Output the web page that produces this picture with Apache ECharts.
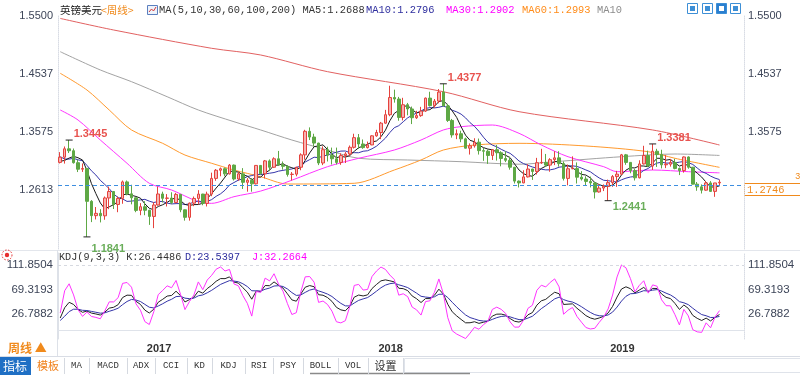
<!DOCTYPE html>
<html>
<head>
<meta charset="utf-8">
<script src="https://cdn.jsdelivr.net/npm/echarts@6/dist/echarts.min.js"></script>
<style>
  html, body { margin: 0; padding: 0; background: #fff; }
  #chart { width: 800px; height: 375px; }
</style>
</head>
<body>
<div id="chart"></div>
<script>
// weekly bars [open, high, low, close], first week 2016-08-22
var bars2016 = [
  [1.3075, 1.3245, 1.3058, 1.3161], [1.3161, 1.3339, 1.3055, 1.3300], [1.3300, 1.3445, 1.3230, 1.3268],
  [1.3268, 1.3305, 1.3055, 1.3070], [1.3070, 1.3120, 1.2915, 1.2962], [1.2962, 1.3058, 1.2917, 1.2974],
  [1.2976, 1.2976, 1.1841, 1.2430], [1.2430, 1.2450, 1.2086, 1.2193], [1.2193, 1.2336, 1.2130, 1.2231],
  [1.2231, 1.2300, 1.2081, 1.2190], [1.2190, 1.2510, 1.2125, 1.2486], [1.2486, 1.2674, 1.2300, 1.2593],
  [1.2593, 1.2600, 1.2303, 1.2378], [1.2378, 1.2510, 1.2250, 1.2478], [1.2478, 1.2775, 1.2390, 1.2752],
  [1.2752, 1.2775, 1.2530, 1.2554], [1.2554, 1.2705, 1.2380, 1.2489], [1.2489, 1.2490, 1.2250, 1.2280],
  [1.2280, 1.2400, 1.2200, 1.2341]
];
var bars2017 = [
  [1.2341, 1.2432, 1.2200, 1.2282], [1.2282, 1.2290, 1.2040, 1.2180], [1.2180, 1.2417, 1.1986, 1.2370],
  [1.2370, 1.2675, 1.2360, 1.2552], [1.2552, 1.2590, 1.2410, 1.2480], [1.2480, 1.2550, 1.2345, 1.2485],
  [1.2485, 1.2580, 1.2385, 1.2410], [1.2410, 1.2570, 1.2400, 1.2545], [1.2545, 1.2545, 1.2250, 1.2290],
  [1.2290, 1.2295, 1.2110, 1.2165], [1.2165, 1.2410, 1.2110, 1.2400], [1.2400, 1.2510, 1.2350, 1.2478],
  [1.2478, 1.2615, 1.2380, 1.2550], [1.2550, 1.2555, 1.2365, 1.2395], [1.2395, 1.2590, 1.2345, 1.2550],
  [1.2550, 1.2905, 1.2515, 1.2810], [1.2810, 1.2965, 1.2770, 1.2945], [1.2945, 1.2990, 1.2845, 1.2970],
  [1.2970, 1.2990, 1.2845, 1.2885], [1.2885, 1.3048, 1.2875, 1.3030], [1.3030, 1.3040, 1.2775, 1.2800],
  [1.2800, 1.2915, 1.2770, 1.2885], [1.2885, 1.2980, 1.2635, 1.2745], [1.2745, 1.2815, 1.2590, 1.2780],
  [1.2780, 1.2815, 1.2590, 1.2720], [1.2720, 1.3030, 1.2710, 1.3025], [1.3025, 1.3030, 1.2880, 1.2885],
  [1.2885, 1.3115, 1.2810, 1.3100], [1.3100, 1.3125, 1.2930, 1.2995], [1.2995, 1.3160, 1.2985, 1.3135],
  [1.3135, 1.3265, 1.3015, 1.3035], [1.3035, 1.3090, 1.2955, 1.3010], [1.3010, 1.3030, 1.2840, 1.2875],
  [1.2875, 1.2915, 1.2775, 1.2880], [1.2880, 1.2980, 1.2845, 1.2995], [1.2995, 1.3225, 1.2945, 1.3200],
  [1.3200, 1.3615, 1.3120, 1.3590], [1.3590, 1.3655, 1.3445, 1.3495], [1.3495, 1.3550, 1.3340, 1.3395],
  [1.3395, 1.3400, 1.3030, 1.3065], [1.3065, 1.3340, 1.3030, 1.3285], [1.3285, 1.3335, 1.3090, 1.3195],
  [1.3195, 1.3320, 1.3040, 1.3135], [1.3135, 1.3320, 1.3040, 1.3075], [1.3075, 1.3225, 1.3035, 1.3190],
  [1.3190, 1.3245, 1.3065, 1.3215], [1.3215, 1.3355, 1.3185, 1.3325], [1.3325, 1.3550, 1.3305, 1.3485],
  [1.3485, 1.3545, 1.3300, 1.3380], [1.3380, 1.3455, 1.3300, 1.3320], [1.3320, 1.3420, 1.3305, 1.3365],
  [1.3365, 1.3525, 1.3360, 1.3515]
];
var bars2018 = [
  [1.3515, 1.3615, 1.3500, 1.3570], [1.3570, 1.3745, 1.3460, 1.3725], [1.3725, 1.3945, 1.3715, 1.3865],
  [1.3865, 1.4345, 1.3840, 1.4150], [1.4150, 1.4280, 1.4065, 1.4125], [1.4125, 1.4160, 1.3765, 1.3820],
  [1.3820, 1.4145, 1.3770, 1.4030], [1.4030, 1.4060, 1.3855, 1.3960], [1.3960, 1.4000, 1.3710, 1.3815],
  [1.3815, 1.3930, 1.3795, 1.3850], [1.3850, 1.3995, 1.3830, 1.3925], [1.3925, 1.4150, 1.3910, 1.4140],
  [1.4140, 1.4245, 1.4000, 1.4015], [1.4015, 1.4125, 1.3980, 1.4090], [1.4090, 1.4290, 1.4055, 1.4240],
  [1.4240, 1.4377, 1.4005, 1.4010], [1.4010, 1.4045, 1.3745, 1.3770], [1.3770, 1.3795, 1.3485, 1.3530],
  [1.3530, 1.3620, 1.3460, 1.3550], [1.3550, 1.3600, 1.3410, 1.3465], [1.3465, 1.3485, 1.3305, 1.3310],
  [1.3310, 1.3390, 1.3205, 1.3350], [1.3350, 1.3475, 1.3320, 1.3410], [1.3410, 1.3470, 1.3205, 1.3270],
  [1.3270, 1.3315, 1.3100, 1.3260], [1.3260, 1.3290, 1.3050, 1.3190], [1.3190, 1.3290, 1.3115, 1.3285],
  [1.3285, 1.3365, 1.3105, 1.3235], [1.3235, 1.3260, 1.3010, 1.3140], [1.3140, 1.3260, 1.3080, 1.3110],
  [1.3110, 1.3170, 1.2955, 1.2995], [1.2995, 1.3000, 1.2725, 1.2765], [1.2765, 1.2775, 1.2660, 1.2735],
  [1.2735, 1.2945, 1.2730, 1.2835], [1.2835, 1.3045, 1.2825, 1.2965], [1.2965, 1.2970, 1.2785, 1.2925],
  [1.2925, 1.3150, 1.2875, 1.3070], [1.3070, 1.3300, 1.3050, 1.3075], [1.3075, 1.3215, 1.3000, 1.3030],
  [1.3030, 1.3145, 1.2920, 1.3120], [1.3120, 1.3260, 1.3030, 1.3150], [1.3150, 1.3260, 1.3005, 1.3055],
  [1.3055, 1.3090, 1.2775, 1.2810], [1.2810, 1.3040, 1.2695, 1.2970], [1.2970, 1.3175, 1.2965, 1.2972],
  [1.2972, 1.3075, 1.2725, 1.2830], [1.2830, 1.2930, 1.2775, 1.2800], [1.2800, 1.2845, 1.2695, 1.2760],
  [1.2760, 1.2840, 1.2660, 1.2735], [1.2735, 1.2750, 1.2477, 1.2585], [1.2585, 1.2720, 1.2575, 1.2650],
  [1.2650, 1.2710, 1.2600, 1.2680]
];
var bars2019 = [
  [1.2680, 1.2790, 1.2441, 1.2740], [1.2740, 1.2865, 1.2670, 1.2840], [1.2840, 1.2935, 1.2670, 1.2880],
  [1.2880, 1.3215, 1.2865, 1.3200], [1.3200, 1.3215, 1.3035, 1.3075], [1.3075, 1.3080, 1.2895, 1.2940],
  [1.2940, 1.2965, 1.2775, 1.2820], [1.2820, 1.3110, 1.2810, 1.3050], [1.3050, 1.3350, 1.3040, 1.3190],
  [1.3190, 1.3270, 1.3000, 1.3015], [1.3015, 1.3381, 1.2950, 1.3260], [1.3260, 1.3300, 1.3000, 1.3205],
  [1.3205, 1.3285, 1.2975, 1.3035], [1.3035, 1.3195, 1.2980, 1.3045], [1.3045, 1.3130, 1.3005, 1.3075],
  [1.3075, 1.3135, 1.2960, 1.2975], [1.2975, 1.2990, 1.2865, 1.2940], [1.2940, 1.3175, 1.2905, 1.3165],
  [1.3165, 1.3175, 1.2970, 1.2995], [1.2995, 1.3000, 1.2710, 1.2715], [1.2715, 1.2750, 1.2605, 1.2670],
  [1.2670, 1.2710, 1.2560, 1.2615], [1.2615, 1.2765, 1.2605, 1.2735], [1.2735, 1.2765, 1.2585, 1.2595],
  [1.2595, 1.2735, 1.2505, 1.2735], [1.2735, 1.2785, 1.2690, 1.2746]
];

// weeks before the first bar, only used to warm up MA5/MA10 and KDJ
var warmupClose = [1.3680, 1.3275, 1.2950, 1.3220, 1.3100, 1.3225, 1.3075, 1.2930, 1.3075];
var warmupHigh = [1.3535, 1.3298, 1.3480, 1.3300, 1.3255, 1.3372, 1.3070, 1.3186];
var warmupLow = [1.3122, 1.2798, 1.2933, 1.3055, 1.3060, 1.3055, 1.2865, 1.2855];
var kdjSeed = [6, 14];

// long averages: [week index, value]
var ma30Pts = [[0, 1.3943], [4, 1.3777], [9, 1.3446], [15, 1.3060], [20, 1.2729], [25, 1.2618], [31, 1.2424],
  [34, 1.2397], [39, 1.2507], [45, 1.2600], [52, 1.2780], [60, 1.3004], [67, 1.3143], [75, 1.3280], [81, 1.3446],
  [86, 1.3612], [90, 1.3667], [97, 1.3694], [103, 1.3557], [108, 1.3363], [114, 1.3169], [122, 1.3004],
  [125, 1.2921], [133, 1.2949], [141, 1.2921], [148, 1.2902]];
var ma60Pts = [[0, 1.4551], [6, 1.4274], [11, 1.3943], [16, 1.3612], [23, 1.3391], [28, 1.3197], [34, 1.3060],
  [39, 1.2949], [45, 1.2838], [51, 1.2717], [66, 1.2729], [75, 1.2949], [81, 1.3115], [86, 1.3280],
  [93, 1.3363], [103, 1.3391], [118, 1.3347], [132, 1.3252], [138, 1.3143], [148, 1.2993]];
var ma100Pts = [[0, 1.4909], [9, 1.4606], [16, 1.4412], [24, 1.4163], [31, 1.3943], [39, 1.3749], [45, 1.3612],
  [52, 1.3446], [60, 1.3280], [67, 1.3143], [78, 1.3115], [90, 1.3087], [103, 1.3045], [111, 1.3087],
  [126, 1.3169], [138, 1.3214], [148, 1.3190]];
var ma200Pts = [[0, 1.5460], [12, 1.5268], [34, 1.4965], [45, 1.4854], [60, 1.4578], [86, 1.4246],
  [103, 1.3915], [133, 1.3612], [148, 1.3363]];

var priceTicks = [1.2613, 1.3575, 1.4537, 1.5500];
var kdjTicks = [26.7882, 69.3193, 111.8504];
var lastPrice = 1.2746;
var extremes = [
  { idx: 2, value: 1.3445, high: true },
  { idx: 6, value: 1.1841, high: false },
  { idx: 86, value: 1.4377, high: true },
  { idx: 123, value: 1.2441, high: false },
  { idx: 133, value: 1.3381, high: true }
];
var toolButtons = ['MA', 'MACD', 'ADX', 'CCI', 'KD', 'KDJ', 'RSI', 'PSY', 'BOLL', 'VOL', '设置'];

var bars = bars2016.concat(bars2017, bars2018, bars2019);
var slotCount = 154;
var DAY = 86400000;
var start = Date.UTC(2016, 7, 22);
var weeks = [];
for (var i = 0; i < slotCount; i++) {
  weeks.push(new Date(start + i * 7 * DAY).toISOString().slice(0, 10));
}
function fridayYear(idx) {
  return new Date(start + (idx * 7 + 4) * DAY).getUTCFullYear();
}
function isYearStart(idx) {
  return idx > 0 && fridayYear(idx) !== fridayYear(idx - 1);
}

var closes = bars.map(function (b) { return b[3]; });
var candleData = bars.map(function (b) { return [b[0], b[3], b[2], b[1]]; });

function movingAvg(n) {
  var all = warmupClose.concat(closes);
  var off = warmupClose.length;
  return closes.map(function (c, i) {
    var s = 0;
    for (var k = i + off - n + 1; k <= i + off; k++) s += all[k];
    return +(s / n).toFixed(4);
  });
}

function calcKDJ() {
  var hs = warmupHigh.concat(bars.map(function (b) { return b[1]; }));
  var ls = warmupLow.concat(bars.map(function (b) { return b[2]; }));
  var off = warmupHigh.length;
  var k = kdjSeed[0], d = kdjSeed[1];
  var out = { k: [], d: [], j: [] };
  closes.forEach(function (c, i) {
    var j = i + off;
    var hh = Math.max.apply(null, hs.slice(j - 8, j + 1));
    var ll = Math.min.apply(null, ls.slice(j - 8, j + 1));
    var rsv = (c - ll) / (hh - ll) * 100;
    k = k * 2 / 3 + rsv / 3;
    d = d * 2 / 3 + k / 3;
    out.k.push(+k.toFixed(3));
    out.d.push(+d.toFixed(3));
    out.j.push(+(3 * k - 2 * d).toFixed(3));
  });
  return out;
}
var kdj = calcKDJ();

function lineSeries(name, data, color, xi, yi, smooth) {
  return {
    name: name, type: 'line', data: data, xAxisIndex: xi, yAxisIndex: yi,
    showSymbol: false, symbol: 'none', smooth: smooth || false, silent: true,
    lineStyle: { width: 1, color: color }, z: 3
  };
}

var monoFont = '"Liberation Mono", "DejaVu Sans Mono", monospace';
var cjkFont = '"Noto Sans CJK SC", sans-serif';

function txt(x, y, s, color, font, extra) {
  var el = {
    type: 'text', x: x, y: y, silent: true,
    style: { text: s, fill: color, font: font, verticalAlign: 'middle' }
  };
  if (extra) for (var key in extra) el.style[key] = extra[key];
  return el;
}
function hline(x1, x2, y, color, w) {
  return { type: 'line', silent: true, shape: { x1: x1, y1: y, x2: x2, y2: y }, style: { stroke: color, lineWidth: w || 1 } };
}
function vline(x, y1, y2, color) {
  return { type: 'line', silent: true, shape: { x1: x, y1: y1, x2: x, y2: y2 }, style: { stroke: color, lineWidth: 1 } };
}

var graphics = [
  txt(60, 10, '英镑美元', '#222', '10.5px ' + cjkFont),
  txt(101, 10, '<周线>', '#f08a1c', '10.5px ' + cjkFont),
  { type: 'rect', silent: true, shape: { x: 147.5, y: 5.5, width: 10, height: 9 }, style: { fill: '#eef3fb', stroke: '#5b7fbf' } },
  { type: 'polyline', silent: true, shape: { points: [[149, 12], [151.5, 9], [153.5, 11], [156, 7]] }, style: { stroke: '#d23b3b', fill: null, lineWidth: 1 } },
  txt(159, 10, 'MA(5,10,30,60,100,200) MA5:1.2688', '#333', '10.4px ' + monoFont),
  txt(366, 10, 'MA10:1.2796', '#2e2e9e', '10.4px ' + monoFont),
  txt(446, 10, 'MA30:1.2902', '#ff00ff', '10.4px ' + monoFont),
  txt(522, 10, 'MA60:1.2993', '#ff8c1a', '10.4px ' + monoFont),
  txt(597, 10, 'MA10', '#8c8c8c', '10.4px ' + monoFont),
  // price box
  { type: 'rect', silent: true, shape: { x: 744.5, y: 183.5, width: 60, height: 12 }, style: { fill: '#fff', stroke: '#f08a1c' } },
  txt(747, 190, lastPrice.toFixed(4), '#f08a1c', '10.4px ' + monoFont),
  txt(795, 177, '3', '#f08a1c', '9px ' + monoFont),
  // panel separators
  hline(0, 800, 250.5, '#e3e6ec'),
  vline(57.5, 250, 357, '#dde1e8'),
  hline(0, 800, 356.5, '#d9dde5'),
  // kdj header
  { type: 'circle', silent: true, shape: { cx: 7, cy: 255, r: 2.2 }, style: { fill: '#e62e2e' } },
  { type: 'circle', silent: true, shape: { cx: 7, cy: 255, r: 5 }, style: { fill: null, stroke: '#e62e2e', lineWidth: 1, lineDash: [1.5, 1.5] } },
  txt(59, 257, 'KDJ(9,3,3) K:26.4486', '#333', '10.2px ' + monoFont),
  txt(185, 257, 'D:23.5397', '#2e2e9e', '10.2px ' + monoFont),
  txt(252, 257, 'J:32.2664', '#ff00ff', '10.2px ' + monoFont),
  // time row
  txt(8, 348, '周线 ▲', '#f08a1c', 'bold 12px ' + cjkFont),
  // toolbar
  { type: 'rect', silent: true, shape: { x: 0, y: 357, width: 800, height: 18 }, style: { fill: '#fff' } },
  { type: 'rect', silent: true, shape: { x: 0, y: 357, width: 31, height: 18 }, style: { fill: '#1f6fc4' } },
  txt(3, 366, '指标', '#fff', '12px ' + cjkFont),
  txt(37, 366, '模板', '#f0801a', '11px ' + cjkFont),
  { type: 'rect', silent: true, shape: { x: 404.5, y: 358.5, width: 400, height: 14 }, style: { fill: null, stroke: '#dfe3ea' } },
  hline(310, 470, 373.5, '#8a8a8a', 1.5)
];

// top right tool icons
[687, 702, 716, 730].forEach(function (x, n) {
  graphics.push({ type: 'rect', silent: true, shape: { x: x + 0.5, y: 3.5, width: 10, height: 10 },
    style: { fill: n === 2 ? '#2a7fd0' : '#fff', stroke: '#3d8fd6' } });
  graphics.push({ type: 'rect', silent: true, shape: { x: x + 3, y: 6, width: 5, height: 5 },
    style: { fill: n === 2 ? '#fff' : '#3d8fd6' } });
});

var sepX = [64, 89, 127, 155, 187, 212, 245, 273, 303, 338, 368, 403];
sepX.forEach(function (x) { graphics.push(vline(x + 0.5, 358, 374, '#d5d9e0')); });
toolButtons.forEach(function (label, n) {
  var cx = (sepX[n] + sepX[n + 1]) / 2;
  var font = label === '设置' ? '11px ' + cjkFont : '9px ' + monoFont;
  graphics.push(txt(cx, 366, label, '#333', font, { align: 'center' }));
});

var markData = extremes.map(function (e) {
  return {
    coord: [e.idx, e.value], value: e.value.toFixed(4),
    label: {
      offset: [0, e.high ? -6 : (e.idx === 6 ? 12 : 6)],
      color: e.high ? '#e8534f' : '#6aae5a'
    }
  };
});

var yearLabel = function (idx) { return isYearStart(idx); };

var chart = echarts.init(document.getElementById('chart'));
chart.setOption({
  animation: false,
  backgroundColor: '#fff',
  grid: [
    { left: 58, right: 56, top: 16, bottom: 126 },
    { left: 58, right: 56, top: 253, bottom: 36 }
  ],
  xAxis: [
    { type: 'category', gridIndex: 0, data: weeks, boundaryGap: true,
      axisLine: { show: false }, axisTick: { show: false }, axisLabel: { show: false }, splitLine: { show: false } },
    { type: 'category', gridIndex: 1, data: weeks, boundaryGap: true,
      axisLine: { lineStyle: { color: '#dfe3ea' } },
      axisTick: { interval: yearLabel, length: 4, lineStyle: { color: '#c4c8d0' } },
      axisLabel: { interval: yearLabel, margin: 4, align: 'left', padding: [0, 0, 0, 2],
        fontSize: 11, fontWeight: 'bold', color: '#333', fontFamily: 'Arial, "Liberation Sans", sans-serif',
        formatter: function (v, idx) { return String(fridayYear(idx)); } },
      splitLine: { show: false } }
  ],
  yAxis: [
    { type: 'value', gridIndex: 0, position: 'left', min: 1.16405, max: 1.55, scale: true,
      axisLine: { show: true, lineStyle: { color: '#d8dce4', type: 'dotted' } }, axisTick: { show: false },
      splitLine: { show: false },
      axisLabel: { customValues: priceTicks, margin: 5, fontSize: 11, color: '#3d4558',
        fontFamily: 'Arial, "Liberation Sans", sans-serif', formatter: function (v) { return v.toFixed(4); } } },
    { type: 'value', gridIndex: 0, position: 'right', min: 1.16405, max: 1.55, scale: true,
      axisLine: { show: true, lineStyle: { color: '#d8dce4', type: 'dotted' } }, axisTick: { show: false },
      splitLine: { show: false },
      axisLabel: { customValues: priceTicks.slice(1), margin: 4, fontSize: 11, color: '#3d4558',
        fontFamily: 'Arial, "Liberation Sans", sans-serif', formatter: function (v) { return v.toFixed(4); } } },
    { type: 'value', gridIndex: 1, position: 'left', min: -15.83, max: 132.55,
      axisLine: { show: true, lineStyle: { color: '#dde1e8' } }, axisTick: { show: false },
      splitLine: { show: false },
      axisLabel: { customValues: kdjTicks, margin: 5, fontSize: 11.5, color: '#3d4558',
        fontFamily: 'Arial, "Liberation Sans", sans-serif', formatter: function (v) { return v.toFixed(4); } } },
    { type: 'value', gridIndex: 1, position: 'right', min: -15.83, max: 132.55,
      axisLine: { show: true, lineStyle: { color: '#d8dce4', type: 'dotted' } }, axisTick: { show: false },
      splitLine: { show: false },
      axisLabel: { customValues: kdjTicks, margin: 4, fontSize: 11.5, color: '#3d4558',
        fontFamily: 'Arial, "Liberation Sans", sans-serif', formatter: function (v) { return v.toFixed(4); } } }
  ],
  series: [
    lineSeries('MA200', ma200Pts, '#e26161', 0, 0, 0.3),
    lineSeries('MA100', ma100Pts, '#a3a3a3', 0, 0, 0.3),
    lineSeries('MA60', ma60Pts, '#ff9a2e', 0, 0, 0.3),
    lineSeries('MA30', ma30Pts, '#ff33ff', 0, 0, 0.3),
    {
      name: 'weekly', type: 'candlestick', xAxisIndex: 0, yAxisIndex: 0, data: candleData, barWidth: 3, z: 4,
      itemStyle: { color: '#f5b3b1', color0: '#5ea845', borderColor: '#e5423d', borderColor0: '#5ea845', borderWidth: 1 },
      markPoint: {
        symbol: 'rect', symbolSize: [7, 1], itemStyle: { color: '#222' }, silent: true,
        label: { show: true, position: 'right', distance: 1, fontSize: 11, fontWeight: 'bold',
          fontFamily: 'Arial, "Liberation Sans", sans-serif',
          formatter: function (p) { return p.value; } },
        data: markData
      },
      markLine: {
        silent: true, symbol: ['none', 'none'], label: { show: false },
        lineStyle: { color: '#3d8ee0', type: [4, 3], width: 1 },
        data: [{ yAxis: lastPrice }]
      }
    },
    lineSeries('MA10', movingAvg(10), '#3535aa', 0, 0),
    lineSeries('MA5', movingAvg(5), '#1a1a1a', 0, 0),
    (function () {
      var s = lineSeries('K', kdj.k, '#222', 1, 2);
      s.markLine = { silent: true, symbol: ['none', 'none'], label: { show: false },
        lineStyle: { color: '#d6d9e0', type: [3, 3], width: 1 }, data: [{ yAxis: kdjTicks[2] }] };
      return s;
    })(),
    lineSeries('D', kdj.d, '#3434a8', 1, 2),
    lineSeries('J', kdj.j, '#ff33ff', 1, 2)
  ],
  graphic: graphics
});
</script>
</body>
</html>
